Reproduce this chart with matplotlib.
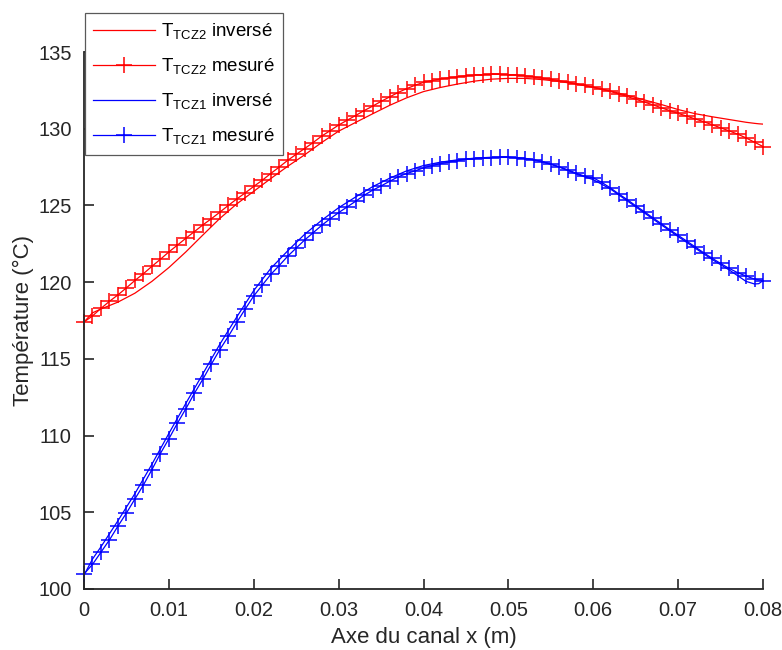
import numpy as np
import matplotlib
matplotlib.use("Agg")
import matplotlib.pyplot as plt

plt.rcParams['font.family'] = ['Liberation Sans', 'DejaVu Sans']
plt.rcParams['mathtext.fontset'] = 'custom'
plt.rcParams['mathtext.rm'] = 'Liberation Sans'
plt.rcParams['mathtext.it'] = 'Liberation Sans'

# measured points, one every 1 mm along the channel
x_mes = np.linspace(0, 0.08, 81)

t_tcz2_mes = [117.4, 117.8, 118.29, 118.75, 119.17, 119.63, 120.11, 120.55, 121.03, 121.49,
              121.97, 122.41, 122.86, 123.29, 123.73, 124.13, 124.56, 125.0, 125.42, 125.82,
              126.24, 126.64, 127.08, 127.5, 127.94, 128.33, 128.71, 129.1, 129.52, 129.87,
              130.24, 130.55, 130.86, 131.18, 131.47, 131.78, 132.07, 132.36, 132.61, 132.83,
              133.02, 133.14, 133.24, 133.32, 133.39, 133.45, 133.5, 133.53, 133.55, 133.55,
              133.53, 133.5, 133.45, 133.38, 133.3, 133.22, 133.13, 133.03, 132.93, 132.82,
              132.7, 132.57, 132.43, 132.27, 132.1, 131.92, 131.74, 131.56, 131.37, 131.18,
              131.0, 130.82, 130.64, 130.46, 130.26, 130.06, 129.86, 129.65, 129.4, 129.12,
              128.84]

t_tcz1_mes = [100.98, 101.6, 102.4, 103.2, 104.1, 104.95, 105.87, 106.78, 107.78, 108.83,
              109.79, 110.8, 111.75, 112.75, 113.67, 114.65, 115.6, 116.46, 117.38, 118.25,
              119.1, 119.8, 120.5, 121.08, 121.69, 122.22, 122.75, 123.22, 123.7, 124.13,
              124.53, 124.9, 125.27, 125.66, 125.99, 126.27, 126.57, 126.86, 127.08, 127.25,
              127.45, 127.6, 127.72, 127.83, 127.92, 128.0, 128.05, 128.1, 128.12, 128.13,
              128.13, 128.1, 128.05, 127.98, 127.85, 127.7, 127.52, 127.32, 127.1, 126.9,
              126.8, 126.5, 126.15, 125.75, 125.38, 124.98, 124.6, 124.2, 123.82, 123.42,
              123.05, 122.68, 122.3, 121.92, 121.56, 121.22, 120.9, 120.62, 120.4, 120.2,
              120.1]

# inverse-method results
x_inv = [0.0, 0.001, 0.002, 0.004, 0.006, 0.008, 0.010, 0.012, 0.014, 0.016,
         0.018, 0.020, 0.022, 0.024, 0.026, 0.028, 0.030, 0.032, 0.034, 0.036,
         0.038, 0.040, 0.042, 0.044, 0.046, 0.048, 0.050, 0.052, 0.054, 0.056,
         0.058, 0.060, 0.062, 0.064, 0.066, 0.068, 0.070, 0.072, 0.074, 0.076,
         0.078, 0.079, 0.0795, 0.080]

t_tcz2_inv = [117.4, 118.0, 118.25, 118.7, 119.28, 120.05, 120.95, 121.97, 123.07, 124.15,
              125.1, 125.92, 126.75, 127.55, 128.3, 129.1, 129.84, 130.41, 130.97, 131.52,
              132.01, 132.42, 132.69, 132.91, 133.1, 133.23, 133.28, 133.28, 133.2, 133.08,
              132.91, 132.7, 132.46, 132.18, 131.88, 131.58, 131.25, 130.98, 130.78, 130.6,
              130.42, 130.35, 130.32, 130.3]

t_tcz1_inv = [100.9, 101.95, 102.75, 104.45, 106.22, 108.13, 110.14, 112.1, 114.02, 115.95,
              117.73, 119.45, 120.89, 122.04, 123.12, 124.03, 124.85, 125.55, 126.22, 126.77,
              127.25, 127.6, 127.82, 127.97, 128.08, 128.14, 128.15, 128.07, 127.85, 127.5,
              127.05, 126.68, 126.08, 125.3, 124.52, 123.74, 122.97, 122.22, 121.48, 120.8,
              120.05, 119.88, 119.9, 120.1]

dark = '#262626'

fig = plt.figure(figsize=(7.82, 6.5), dpi=100)
ax = fig.add_axes([84 / 782, 61 / 650, 679 / 782, 537 / 650])

ax.plot(x_inv, t_tcz2_inv, color='red', lw=0.9, label=r'T$_{\mathrm{TCZ2}}$ inversé')
ax.plot(x_mes, t_tcz2_mes, color='red', lw=0.9, marker='+', ms=11, mew=1.1,
        clip_on=False, label=r'T$_{\mathrm{TCZ2}}$ mesuré')
ax.plot(x_inv, t_tcz1_inv, color='blue', lw=0.9, label=r'T$_{\mathrm{TCZ1}}$ inversé')
ax.plot(x_mes, t_tcz1_mes, color='blue', lw=0.9, marker='+', ms=11, mew=1.1,
        clip_on=False, label=r'T$_{\mathrm{TCZ1}}$ mesuré')

ax.set_xlim(0, 0.08)
ax.set_ylim(100, 135)
ax.set_xticks(np.arange(0, 0.081, 0.01))
ax.set_xticklabels(['0', '0.01', '0.02', '0.03', '0.04', '0.05', '0.06', '0.07', '0.08'])
ax.set_yticks(np.arange(100, 136, 5))

for side in ['top', 'right']:
    ax.spines[side].set_visible(False)
for side in ['left', 'bottom']:
    ax.spines[side].set_color(dark)
    ax.spines[side].set_linewidth(1.3)

ax.tick_params(direction='in', length=7, width=1.2, colors=dark, labelsize=14.5, pad=9)
ax.set_xlabel('Axe du canal x (m)', fontsize=16, color=dark, labelpad=5)
ax.set_ylabel('Température (°C)', fontsize=16, color=dark, labelpad=3)

leg = ax.legend(loc='upper left', bbox_to_anchor=(85 / 782, 1 - 13 / 650),
                bbox_transform=fig.transFigure, borderaxespad=0, fontsize=13.5,
                handlelength=3.3, handletextpad=0.3, labelspacing=0.8,
                borderpad=0.45, fancybox=False, framealpha=1)
leg.get_frame().set_edgecolor('0.35')
leg.get_frame().set_linewidth(0.9)

fig.savefig('out.png', dpi=100)
plt.close('all')
